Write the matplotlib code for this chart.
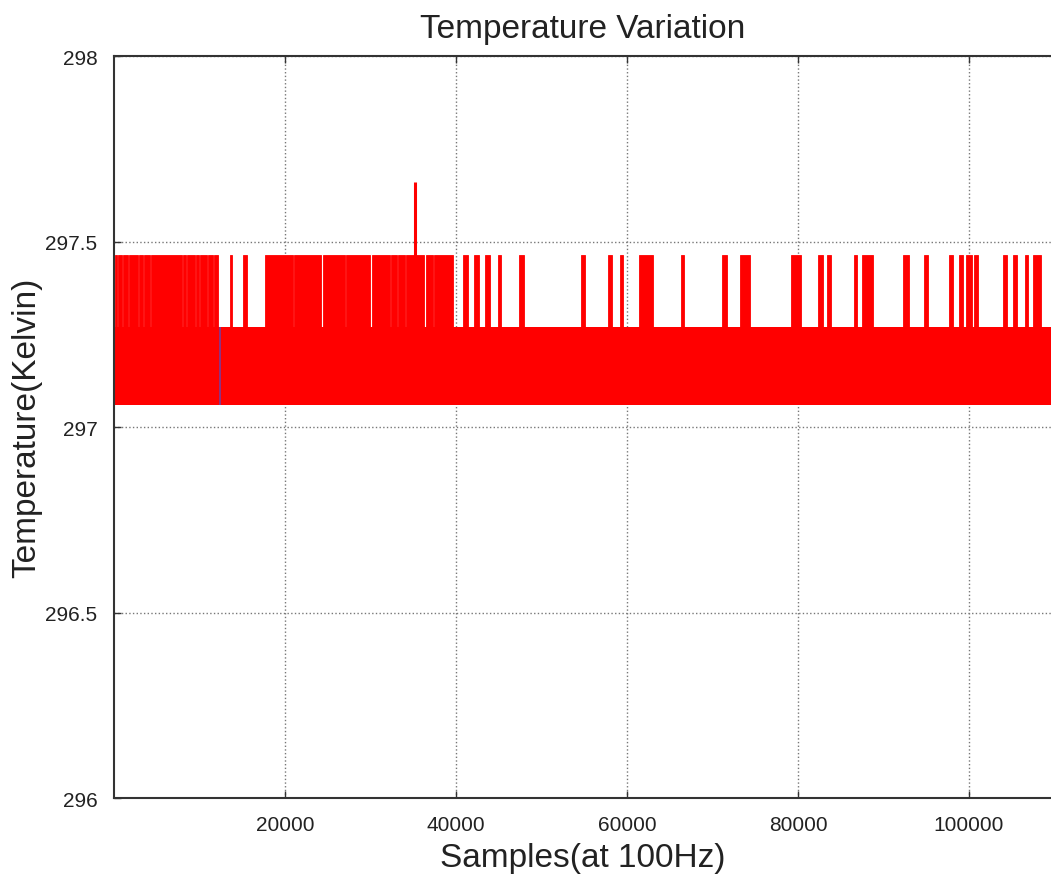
import matplotlib
matplotlib.use('Agg')
import matplotlib.pyplot as plt
from matplotlib.ticker import FuncFormatter

# quantised temperature levels (Kelvin)
band_low = 297.06
band_high = 297.27
spike_top = 297.465
x_start = 0
x_end = 109600

# sample ranges where the reading jumps up to spike_top
spike_start = [120, 410, 995, 1700, 2870, 3450, 4270, 8015, 8480, 9540, 10000, 10940, 11640,
               13600, 15100,
               17670, 21000, 24450, 27085, 30185, 32350, 33170, 34100, 36500, 37380,
               40830, 42120, 43400, 44930, 47390, 54640, 57800, 59200, 61420, 66340,
               71140, 73240, 79210, 82370, 83420, 86580, 87520, 92310, 94770, 97700,
               98870, 99680, 100620, 104010, 105180, 106590, 107520]
spike_end = [290, 880, 1580, 2750, 3340, 4150, 7900, 8370, 9420, 9890, 10820, 11520, 12170,
             13800, 15550,
             20885, 24220, 26970, 29950, 32230, 33050, 33990, 36270, 37265, 39660,
             41420, 42700, 43990, 45280, 47970, 55110, 58270, 59550, 63060, 66690,
             71720, 74410, 80380, 82950, 83890, 86930, 88800, 93020, 95240, 98160,
             99330, 100390, 101090, 104480, 105650, 106940, 108460]

# single outlier sample
peak_x = 35200
peak_val = 297.66

# short second trace visible inside the band
other_x = 12400

y_ticks = [296, 296.5, 297, 297.5, 298]
x_ticks = [20000, 40000, 60000, 80000, 100000]

red = '#ff0000'

fig = plt.figure(figsize=(10.51, 8.79), dpi=100)
ax = fig.add_axes([0.1085, 0.091, 0.8915, 0.844])

ax.fill_between([x_start, x_end], band_low, band_high, color=red, linewidth=0, zorder=2)
widths = [e - s for s, e in zip(spike_start, spike_end)]
ax.bar(spike_start, [spike_top - band_high] * len(spike_start), width=widths,
       bottom=band_high, align='edge', color=red, edgecolor=red, linewidth=0.6, zorder=2)
ax.vlines(peak_x, band_high, peak_val, color=red, linewidth=2.2, zorder=3)
ax.vlines(other_x, band_low, band_high, color='#7a3c9a', linewidth=1.2, zorder=3)

ax.set_xlim(x_start, x_end)
ax.set_ylim(296, 298)
ax.set_xticks(x_ticks)
ax.set_yticks(y_ticks)
ax.yaxis.set_major_formatter(FuncFormatter(lambda v, p: '%g' % v))
ax.xaxis.set_major_formatter(FuncFormatter(lambda v, p: '%d' % v))

ax.grid(True, linestyle=':', color='#777777', linewidth=1.0, zorder=1)
ax.set_axisbelow(True)

for side in ['left', 'top', 'bottom']:
    ax.spines[side].set_color('#333333')
    ax.spines[side].set_linewidth(1.5)
ax.spines['right'].set_visible(False)

ax.tick_params(direction='in', length=5, width=1, colors='#333333', top=True, pad=12)
for lab in ax.get_xticklabels() + ax.get_yticklabels():
    lab.set_fontfamily('Liberation Sans')
    lab.set_fontsize(15)
    lab.set_color('#222222')

ax.set_title('Temperature Variation', family='Liberation Sans', fontsize=24, color='#222222', pad=14)
ax.set_xlabel('Samples(at 100Hz)', family='Liberation Sans', fontsize=24, color='#222222', labelpad=6)
ax.set_ylabel('Temperature(Kelvin)', family='Liberation Sans', fontsize=24, color='#222222')
ax.yaxis.set_label_coords(-0.077, 0.5)

fig.savefig('out.png', dpi=100)
